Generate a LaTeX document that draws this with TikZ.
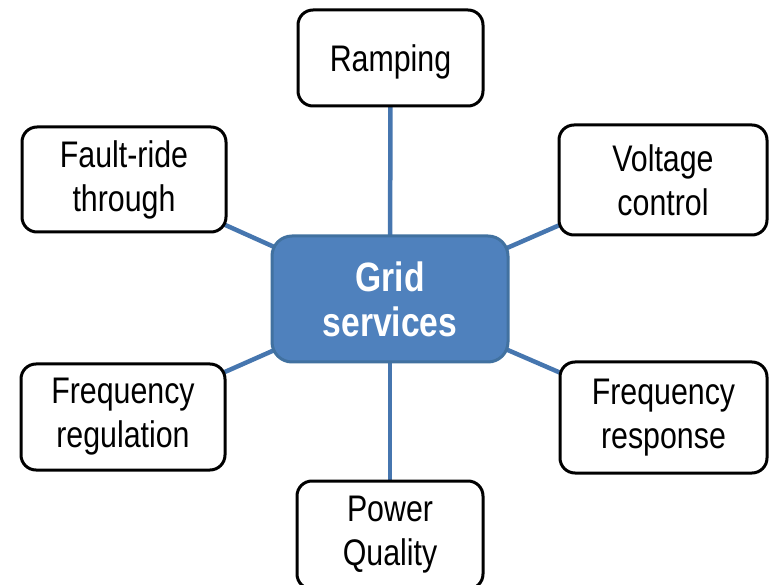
\documentclass[tikz,border=0pt]{standalone}
\usepackage{fontspec}
\setmainfont[FakeStretch=0.82]{Liberation Sans}
\usetikzlibrary{backgrounds}
\begin{document}
\begin{tikzpicture}[x=1pt,y=-1pt,
  outer/.style={draw=black, line width=3pt, fill=white, rounded corners=15pt,
    inner sep=0pt, align=center, font=\fontsize{37}{44}\selectfont},
  hub/.style={draw=hubborder, line width=3pt, fill=hubfill, rounded corners=20pt,
    inner sep=0pt, align=center, text=white, font=\fontsize{41}{45}\selectfont\bfseries},
  link/.style={draw=linkblue, line width=4.5pt}]
\definecolor{hubfill}{RGB}{79,129,189}
\definecolor{hubborder}{RGB}{65,113,160}
\definecolor{linkblue}{RGB}{70,118,175}
\useasboundingbox (0,0) rectangle (769,585);
\node[hub, minimum width=236pt, minimum height=126pt] (c) at (390,299) {Grid\\services};
\node[outer, minimum width=185pt, minimum height=96pt, text depth=0pt] (ramp) at (390.5,58) {Ramping};
\node[outer, minimum width=204pt, minimum height=105pt] (fault) at (124,179.5) {Fault-ride\\through};
\node[outer, minimum width=208pt, minimum height=110pt] (volt) at (663,180) {Voltage\\control};
\node[outer, minimum width=204pt, minimum height=106pt] (freg) at (123,417) {Frequency\\regulation};
\node[outer, minimum width=207pt, minimum height=111pt] (fresp) at (663.5,417.5) {Frequency\\response};
\node[outer, minimum width=186pt, minimum height=108pt] (pq) at (390,535) {Power\\Quality};
\begin{scope}[on background layer]
\draw[link] (c.center) -- (ramp.center);
\draw[link] (c.center) -- (fault.center);
\draw[link] (c.center) -- (volt.center);
\draw[link] (c.center) -- (freg.center);
\draw[link] (c.center) -- (fresp.center);
\draw[link] (c.center) -- (pq.center);
\end{scope}
\end{tikzpicture}
\end{document}
